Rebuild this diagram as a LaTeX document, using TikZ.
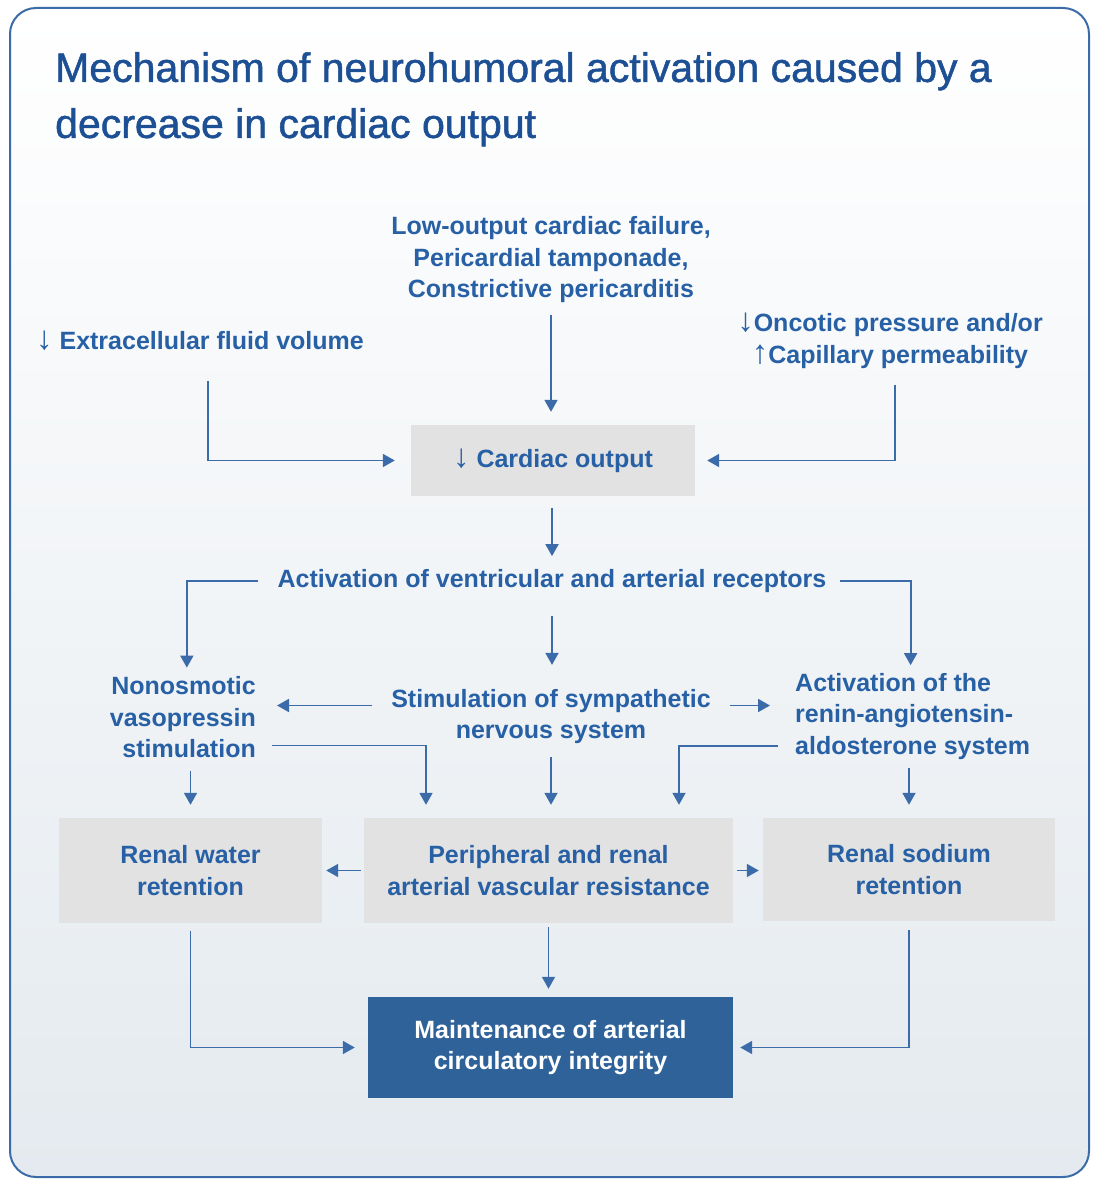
\documentclass[tikz,border=0pt]{standalone}
\usepackage{fontspec}
\setmainfont{Liberation Sans}
\newfontfamily\titlefont{Liberation Sans}[FakeBold=1.2]
\usetikzlibrary{arrows.meta}

\definecolor{titleblue}{HTML}{1D4F94}
\definecolor{textblue}{HTML}{2760A5}
\definecolor{lineblue}{HTML}{3B6BA8}
\definecolor{framebg}{HTML}{E4EAEF}
\definecolor{boxgray}{HTML}{E2E2E2}
\definecolor{boxblue}{HTML}{2F6299}

\newcommand{\decr}{{\mdseries\fontsize{33}{33}\selectfont ↓}}
\newcommand{\incr}{{\mdseries\fontsize{33}{33}\selectfont ↑}}

\tikzset{
  txt/.style={font=\bfseries\fontsize{25}{31.5}\selectfont, text=textblue, inner sep=0pt, align=center},
  graybox/.style={txt, fill=boxgray},
  bluebox/.style={txt, fill=boxblue, text=white},
  arr/.style={draw=lineblue, line width=1.8pt, -{Triangle[length=12pt,width=13pt]}},
}

\begin{document}
\begin{tikzpicture}[x=1pt,y=-1pt]
  \useasboundingbox (0,0) rectangle (1092,1180);
  % Frame
  \shadedraw[top color=white, middle color=white!60!framebg, bottom color=framebg,
    draw=lineblue, line width=2pt, rounded corners=26pt] (10,8) rectangle (1089,1177);

  % Title
  \node[anchor=north west, inner sep=0pt, align=left, text=titleblue,
    font=\titlefont\fontsize{41}{56}\selectfont] (title) at (55,52)
    {Mechanism of neurohumoral activation caused by a\\decrease in cardiac output};

  % Causes
  \node[txt] (cause) at (551,260) {Low-output cardiac failure,\\Pericardial tamponade,\\Constrictive pericarditis};
  \node[txt] (ecf) at (200,341) {\decr{} Extracellular fluid volume};
  \node[txt] (onc) at (890,341) {\decr Oncotic pressure and/or\\\incr Capillary permeability};
  \node[graybox, minimum width=284, minimum height=71] (co) at (553,460.5) {\decr{} Cardiac output};

  % Receptors
  \node[txt] (avr) at (552,581) {Activation of ventricular and arterial receptors};
  \node[txt, align=right, anchor=east] (nvs) at (256,717.5) {Nonosmotic\\vasopressin\\stimulation};
  \node[txt] (sns) at (551,716.5) {Stimulation of sympathetic\\nervous system};
  \node[txt, align=left, anchor=west] (raas) at (795,716.5) {Activation of the\\renin-angiotensin-\\aldosterone system};

  % Effects
  \node[graybox, minimum width=263, minimum height=105] (rwr) at (190.5,870.5) {Renal water\\retention};
  \node[graybox, minimum width=369, minimum height=105] (parv) at (548.5,870.5) {Peripheral and renal\\arterial vascular resistance};
  \node[graybox, minimum width=292, minimum height=103] (rsr) at (909,869.5) {Renal sodium\\retention};
  \node[bluebox, minimum width=365, minimum height=101] (maint) at (550.5,1047.5) {Maintenance of arterial\\circulatory integrity};

  % Arrows into cardiac output
  \draw[arr, shorten <=12pt, shorten >=13pt] (cause.south) -- (cause.south |- co.north);
  \draw[arr, shorten <=30pt, shorten >=16pt] ([xshift=8pt]ecf.south) |- (co.west);
  \draw[arr, shorten <=16pt, shorten >=12pt] ([xshift=5pt]onc.south) |- (co.east);

  % Receptor branches
  \draw[arr, shorten <=12pt, shorten >=13pt] (avr.north |- co.south) -- (avr.north);
  \draw[arr, shorten <=19pt, shorten >=9pt] (avr.west) -| ([xshift=4pt]nvs.north);
  \draw[arr, shorten <=13pt, shorten >=8pt] (avr.east) -| ([xshift=-2pt]raas.north);
  \draw[arr, shorten <=23pt, shorten >=24pt] (avr.south) -- (avr.south |- sns.north);
  \draw[arr, shorten <=19pt, shorten >=21pt] ([yshift=11pt]sns.west) -- ([yshift=11pt]sns.west -| nvs.east);
  \draw[arr, shorten <=19pt, shorten >=25pt] ([yshift=11pt]sns.east) -- ([yshift=11pt]sns.east -| raas.west);

  % Into the effect boxes
  \draw[arr, shorten <=16pt, shorten >=13pt] ([yshift=-28pt]nvs.east) -| ([xshift=-122.5pt]parv.north);
  \draw[arr, shorten <=17pt, shorten >=13pt] ([yshift=-29.5pt]raas.west) -| ([xshift=130.5pt]parv.north);
  \draw[arr, shorten <=13pt, shorten >=13pt] (sns.south) -- (sns.south |- parv.north);
  \draw[arr, shorten <=12.5pt, shorten >=13pt] (rwr.north |- nvs.south) -- (rwr.north);
  \draw[arr, shorten <=8pt, shorten >=13pt] (rsr.north |- raas.south) -- (rsr.north);
  \draw[arr, shorten <=3pt, shorten >=4pt] (parv.west) -- (rwr.east);
  \draw[arr, shorten <=4pt, shorten >=4pt] (parv.east) -- (parv.east -| rsr.west);

  % Into maintenance
  \draw[arr, shorten <=8pt, shorten >=13pt] (rwr.south) |- (maint.west);
  \draw[arr, shorten <=4pt, shorten >=8pt] (parv.south) -- (parv.south |- maint.north);
  \draw[arr, shorten <=9pt, shorten >=7pt] (rsr.south) |- (maint.east);
\end{tikzpicture}
\end{document}
